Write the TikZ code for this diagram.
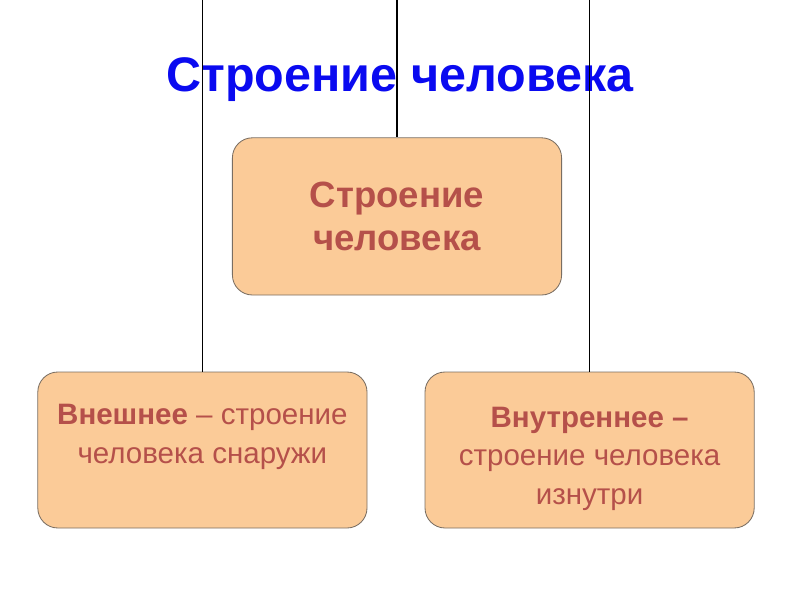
\documentclass[tikz,border=0pt]{standalone}
\usepackage{fontspec}
\setmainfont{Liberation Sans}
\usepackage{tikz}
\usetikzlibrary{positioning, calc}
\definecolor{myBlue}{HTML}{0A0AF0}
\definecolor{myPeach}{HTML}{FBCB98}
\definecolor{myRust}{HTML}{B5504A}
\definecolor{myEdge}{HTML}{7A6E62}

\begin{document}
\begin{tikzpicture}[
  box/.style={draw=myEdge, line width=0.6pt, fill=myPeach, rounded corners=0.5cm,
              minimum width=8.23cm, minimum height=3.9cm,
              text=myRust, align=center},
  sub/.style={box, font=\fontsize{21}{27.3}\selectfont},
  link/.style={draw=black, line width=0.8pt}
]
\useasboundingbox (0,0) rectangle (20,15);
\node[font=\fontsize{34.5}{40}\selectfont\bfseries, text=myBlue] (title) at (10,13.0) {Строение человека};

\node[box, minimum height=3.93cm, font=\fontsize{26}{31}\selectfont\bfseries] (root) at (9.925,9.59) {Строение\\человека};
\node[sub] (outer) at (5.06,3.75) {\rule{0pt}{27pt}\textbf{Внешнее} – строение\\человека снаружи\\\strut};
\node[sub] (inner) at (14.74,3.75) {\rule{0pt}{27pt}\textbf{Внутреннее –}\\строение человека\\изнутри};

\coordinate (rootTop)  at (root.north |- 0,15);
\coordinate (outerTop) at (outer.north |- 0,15);
\coordinate (innerTop) at (inner.north |- 0,15);

\draw[link] (rootTop) -- (root.north);
\draw[link] (outerTop) -- (outer.north);
\draw[link] (innerTop) -- (inner.north);
\end{tikzpicture}
\end{document}
